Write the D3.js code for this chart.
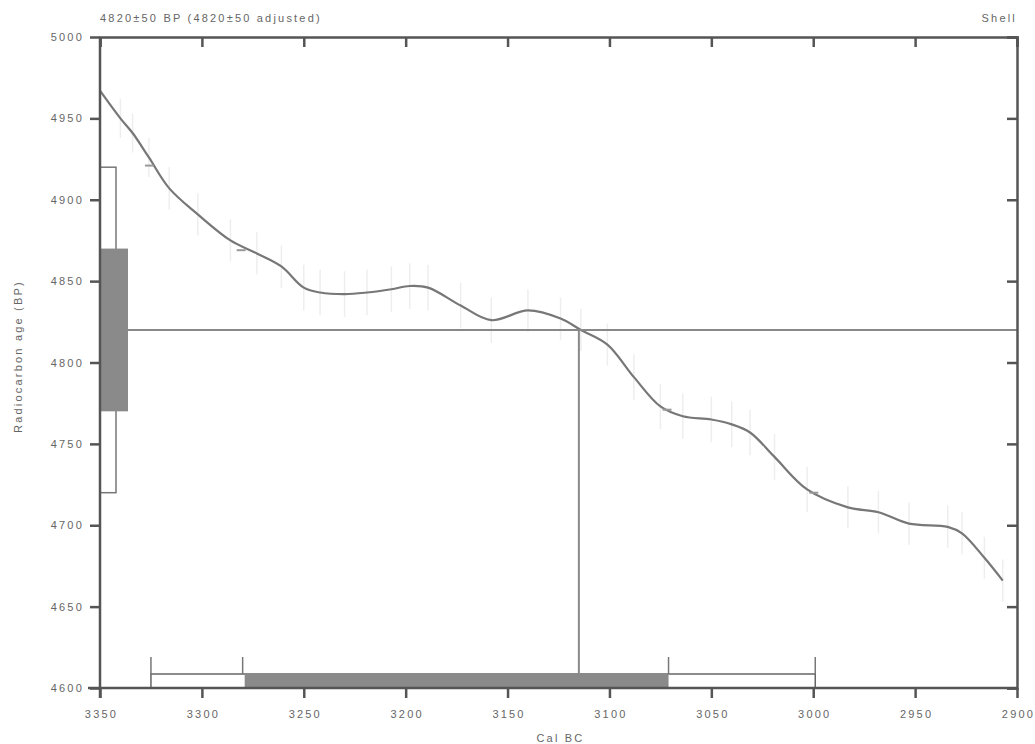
<!DOCTYPE html>
<html>
<head>
<meta charset="utf-8">
<script src="https://cdnjs.cloudflare.com/ajax/libs/d3/7.8.5/d3.min.js"></script>
<style>
  body { margin: 0; background: #fff; }
  text { font-family: "Liberation Sans", Arial, sans-serif; fill: #666; letter-spacing: 2.2px; }
</style>
</head>
<body>
<div id="chart"></div>
<script>
// calibration curve (cal BC, BP)
var curveYears = [3350, 3340, 3334, 3326, 3316, 3302, 3286, 3273, 3261, 3250, 3242, 3230, 3219, 3207,
  3198, 3189, 3173, 3158, 3140, 3124, 3114, 3101, 3088, 3075, 3064, 3050, 3040, 3031, 3019, 3003,
  2983, 2968, 2953, 2934, 2927, 2916, 2907];
var curveBP = [4967, 4950, 4941, 4926, 4907, 4891, 4875, 4867, 4859, 4846, 4843, 4842, 4843, 4845,
  4847, 4846, 4835, 4826, 4832, 4827, 4820, 4811, 4791, 4773, 4767, 4765, 4762, 4757, 4742, 4722,
  4711, 4708, 4701, 4699, 4695, 4680, 4666];
var curveErr = [12, 12, 12, 12, 13, 13, 13, 13, 13, 14, 14, 14, 14, 14,
  14, 14, 14, 14, 13, 13, 13, 13, 14, 14, 14, 14, 14, 14, 14, 14,
  13, 13, 13, 13, 13, 13, 13];

// measured date
var sampleBP = 4820, sampleSigma = 50;
var interceptYear = 3115;

// calibrated ranges (cal BC)
var range1 = [3279, 3071];
var range2 = [3325, 2999];
var rangeMarks = [
  { year: 3325, bp: 4921 },
  { year: 3280, bp: 4869 },
  { year: 3071, bp: 4771 },
  { year: 2999, bp: 4720 }
];

var xTicks = [3350, 3300, 3250, 3200, 3150, 3100, 3050, 3000, 2950, 2900];
var yTicks = [5000, 4950, 4900, 4850, 4800, 4750, 4700, 4650, 4600];

var titleLeft = '4820\u00b150 BP (4820\u00b150 adjusted)';
var titleRight = 'Shell';

var margin = { top: 37, right: 18, bottom: 56, left: 100 },
  width = 1035 - margin.left - margin.right,
  height = 744 - margin.top - margin.bottom;

var axisColor = '#555', curveColor = '#777', fillColor = '#8a8a8a';

var svg = d3
  .select('#chart')
  .append('svg')
  .attr('width', 1035)
  .attr('height', 744)
  .append('g')
  .attr('transform', 'translate(' + margin.left + ',' + margin.top + ')');

var xScale = d3.scaleLinear().domain([3350, 2900]).range([0, width]);
var yScale = d3.scaleLinear().domain([4600, 5000]).range([height, 0]);

var curve = curveYears.map(function (d, i) {
  return { year: d, bp: curveBP[i], err: curveErr[i] };
});

// faint error bars of the curve
svg
  .selectAll('.errbar')
  .data(curve)
  .enter()
  .append('line')
  .attr('x1', function (d) { return xScale(d.year); })
  .attr('x2', function (d) { return xScale(d.year); })
  .attr('y1', function (d) { return yScale(d.bp + d.err); })
  .attr('y2', function (d) { return yScale(d.bp - d.err); })
  .attr('stroke', '#eeeeee')
  .attr('stroke-width', 1.5);

// curve
var line = d3
  .line()
  .x(function (d) { return xScale(d.year); })
  .y(function (d) { return yScale(d.bp); })
  .curve(d3.curveCatmullRom);

svg
  .append('path')
  .attr('d', line(curve))
  .attr('fill', 'none')
  .attr('stroke', curveColor)
  .attr('stroke-width', 2.2);

// little markers where the range ends meet the curve
svg
  .selectAll('.mark')
  .data(rangeMarks)
  .enter()
  .append('line')
  .attr('x1', function (d) { return xScale(d.year) - 6; })
  .attr('x2', function (d) { return xScale(d.year) + 3; })
  .attr('y1', function (d) { return yScale(d.bp); })
  .attr('y2', function (d) { return yScale(d.bp); })
  .attr('stroke', '#999')
  .attr('stroke-width', 2);

// horizontal line at the measured age and vertical intercept
svg
  .append('line')
  .attr('x1', 28)
  .attr('x2', width)
  .attr('y1', yScale(sampleBP))
  .attr('y2', yScale(sampleBP))
  .attr('stroke', '#888')
  .attr('stroke-width', 2);

svg
  .append('line')
  .attr('x1', xScale(interceptYear))
  .attr('x2', xScale(interceptYear))
  .attr('y1', yScale(sampleBP))
  .attr('y2', height - 15)
  .attr('stroke', '#888')
  .attr('stroke-width', 2);

// measured date boxes on the y axis
svg
  .append('rect')
  .attr('x', 0)
  .attr('y', yScale(sampleBP + 2 * sampleSigma))
  .attr('width', 16)
  .attr('height', yScale(sampleBP - 2 * sampleSigma) - yScale(sampleBP + 2 * sampleSigma))
  .attr('fill', 'white')
  .attr('stroke', '#777')
  .attr('stroke-width', 1.5);

svg
  .append('rect')
  .attr('x', 0)
  .attr('y', yScale(sampleBP + sampleSigma))
  .attr('width', 28)
  .attr('height', yScale(sampleBP - sampleSigma) - yScale(sampleBP + sampleSigma))
  .attr('fill', fillColor);

// calibrated range boxes on the x axis
svg
  .append('rect')
  .attr('x', xScale(range2[0]))
  .attr('y', height - 14)
  .attr('width', xScale(range2[1]) - xScale(range2[0]))
  .attr('height', 14)
  .attr('fill', 'white')
  .attr('stroke', '#666')
  .attr('stroke-width', 1.5);

svg
  .append('rect')
  .attr('x', xScale(range1[0]))
  .attr('y', height - 15)
  .attr('width', xScale(range1[1]) - xScale(range1[0]))
  .attr('height', 15)
  .attr('fill', fillColor);

svg
  .selectAll('.rtick')
  .data(rangeMarks)
  .enter()
  .append('line')
  .attr('x1', function (d) { return xScale(d.year); })
  .attr('x2', function (d) { return xScale(d.year); })
  .attr('y1', height - 31)
  .attr('y2', height - 14)
  .attr('stroke', '#777')
  .attr('stroke-width', 1.5);

// axes
var xAxis = svg.append('g').attr('transform', 'translate(0,' + height + ')')
  .call(d3.axisBottom(xScale).tickValues(xTicks).tickSize(10).tickPadding(12).tickFormat(d3.format('d')));
var xTop = svg.append('g')
  .call(d3.axisBottom(xScale).tickValues(xTicks).tickSize(10).tickFormat(''));
var yAxis = svg.append('g')
  .call(d3.axisLeft(yScale).tickValues(yTicks).tickSize(10).tickPadding(6).tickFormat(d3.format('d')));
var yRight = svg.append('g').attr('transform', 'translate(' + width + ',0)')
  .call(d3.axisLeft(yScale).tickValues(yTicks).tickSize(10).tickFormat(''));

[xAxis, xTop, yAxis, yRight].forEach(function (a) {
  a.select('.domain').attr('stroke', axisColor).attr('stroke-width', 2.5);
  a.selectAll('.tick line').attr('stroke', axisColor).attr('stroke-width', 2.5);
  a.selectAll('.tick text').style('font-size', '11px').style('fill', '#666');
});
xAxis.selectAll('.tick text').attr('dx', '1px');
xAxis.select('.domain').attr('d', 'M-12,0H' + width);
yAxis.select('.domain').attr('d', 'M0,0V' + (height + 10));

// labels
svg
  .append('text')
  .attr('x', 0)
  .attr('y', -15)
  .style('font-size', '11px')
  .text(titleLeft);

svg
  .append('text')
  .attr('x', width)
  .attr('y', -15)
  .style('text-anchor', 'end')
  .style('font-size', '11px')
  .text(titleRight);

svg
  .append('text')
  .attr('transform', 'rotate(-90)')
  .attr('x', 0 - height / 2 + 6)
  .attr('y', -78)
  .style('text-anchor', 'middle')
  .style('font-size', '11px')
  .text('Radiocarbon age (BP)');

svg
  .append('text')
  .attr('x', width / 2 + 2)
  .attr('y', height + 54)
  .style('text-anchor', 'middle')
  .style('font-size', '11px')
  .text('Cal BC');
</script>
</body>
</html>
